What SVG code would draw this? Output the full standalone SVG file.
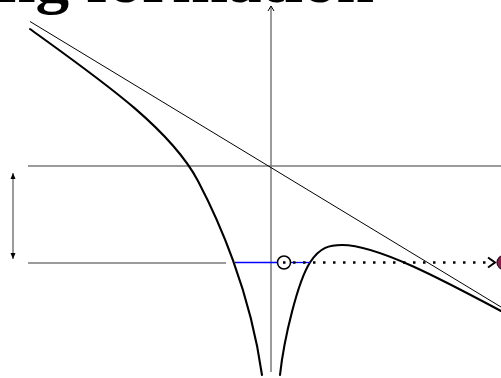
<svg xmlns="http://www.w3.org/2000/svg" width="501" height="378" viewBox="0 0 501 378">
<defs>
<style>
.axis{stroke:#7a7a7a;stroke-width:1.5;fill:none}
.curve{stroke:#000;stroke-width:2.1;fill:none;stroke-linecap:round}
.thin{stroke:#000;stroke-width:1;fill:none}
.blue{stroke:#0000ff;stroke-width:1.3;fill:none}
.title{font-family:"Liberation Serif","DejaVu Serif",serif;font-weight:bold;font-size:62px;fill:#000}
</style>
<marker id="ah" markerWidth="8" markerHeight="8" refX="6" refY="4" orient="auto" markerUnits="userSpaceOnUse">
<path d="M1,1 L6,4 L1,7" fill="none" stroke="#000" stroke-width="1"/>
</marker>
<marker id="fa" markerWidth="8" markerHeight="8" refX="6" refY="3" orient="auto-start-reverse" markerUnits="userSpaceOnUse">
<path d="M0,0.5 L6,3 L0,5.5 Z" fill="#000"/>
</marker>
</defs>
<text class="title" x="-2" y="2" textLength="376" lengthAdjust="spacingAndGlyphs">ng formation</text>
<g id="axes">
<line class="axis" x1="271" y1="372" x2="271" y2="6" marker-end="url(#ah)"/>
<line class="axis" x1="28" y1="166" x2="501" y2="166"/>
<line class="axis" x1="28" y1="263" x2="226" y2="263"/>
<line class="axis" x1="13" y1="173" x2="13" y2="259" marker-start="url(#fa)" marker-end="url(#fa)"/>
</g>
<g id="asymptote">
<line class="thin" x1="30" y1="21.5" x2="501" y2="307"/>
</g>
<g id="left-branch">
<path class="curve" d="M30,29 C100,79.5 170,128 198,181 C218,219 250,290 262,375"/>
</g>
<g id="right-branch">
<path class="curve" d="M280,375 C284,338 298,281 310,262.5 C320,246.9 330,245 342,245 C377,245 441,279 501,311"/>
</g>
<g id="connectors">
<line class="blue" x1="235" y1="262.5" x2="277.5" y2="262.5"/>
<line class="blue" x1="290.5" y1="262.5" x2="310" y2="262.5"/>
<line x1="283" y1="262.5" x2="487" y2="262.5" stroke="#000" stroke-width="2.5" stroke-dasharray="2.5 7.5"/>
<path d="M488,257.5 L495,262.5 L488,267.5" fill="none" stroke="#000" stroke-width="2"/>
</g>
<g id="start-point">
<circle cx="284" cy="262.5" r="6.5" fill="none" stroke="#000" stroke-width="1.5"/>
</g>
<g id="end-point">
<circle cx="504" cy="262.5" r="7" fill="#8b1c4e" stroke="#3a0a20" stroke-width="1.2"/>
</g>
</svg>
